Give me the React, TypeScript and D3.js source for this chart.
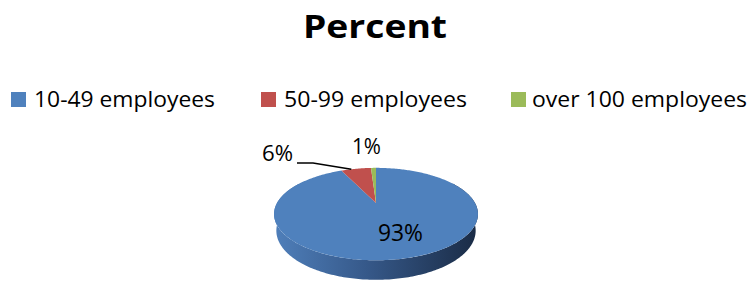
import React, { useEffect, useRef } from "react";
import * as d3 from "d3";

const categories = ["10-49 employees", "50-99 employees", "over 100 employees"];
const values = [93, 6, 1];
const valueLabels = ["93%", "6%", "1%"];
const colors = ["#4F81BD", "#C0504D", "#9BBB59"];

const App = () => {
  const svgRef = useRef<SVGSVGElement>(null);

  useEffect(() => {
    const width = 752, height = 284;
    const svg = d3.select(svgRef.current)
      .attr("width", width)
      .attr("height", height);
    svg.selectAll("*").remove();

    const font = "'Open Sans', 'Noto Sans', sans-serif";

    // simple perspective projection of a flat cylinder
    const cx = 376, cy = 203, s = 99;
    const phi = Math.asin(0.44);
    const dist = 3.75;
    const depth = 0.186;
    const project = (theta: number, r: number, y: number): [number, number] => {
      const X = r * Math.sin(theta);
      const Z = r * Math.cos(theta);
      const v = y * Math.cos(phi) + Z * Math.sin(phi);
      const w = Z * Math.cos(phi) - y * Math.sin(phi);
      const f = 1 / (1 + w / dist);
      return [cx + s * X * f, cy - s * v * f];
    };

    const defs = svg.append("defs");
    const grad = defs.append("linearGradient")
      .attr("id", "sideGrad")
      .attr("x1", 0).attr("x2", 1).attr("y1", 0).attr("y2", 0);
    grad.append("stop").attr("offset", "0%").attr("stop-color", "#4f7fba");
    grad.append("stop").attr("offset", "45%").attr("stop-color", "#36598a");
    grad.append("stop").attr("offset", "100%").attr("stop-color", "#1a2b45");

    // title
    svg.append("text")
      .attr("x", 303)
      .attr("y", 38)
      .attr("font-family", font)
      .attr("font-weight", "bold")
      .attr("font-size", 32)
      .attr("textLength", 144)
      .attr("lengthAdjust", "spacingAndGlyphs")
      .attr("fill", "#000")
      .text("Percent");

    // legend
    const legendX = [11, 261, 511];
    const legendText = [181, 183, 215];
    const legend = svg.append("g");
    categories.forEach((c, i) => {
      legend.append("rect")
        .attr("x", legendX[i])
        .attr("y", 92)
        .attr("width", 15)
        .attr("height", 15)
        .attr("fill", colors[i]);
      legend.append("text")
        .attr("x", legendX[i] + (i === 2 ? 21 : 23))
        .attr("y", 107)
        .attr("font-family", font)
        .attr("font-size", 22)
        .attr("textLength", legendText[i])
        .attr("lengthAdjust", "spacingAndGlyphs")
        .attr("fill", "#000")
        .text(c);
    });

    const pie = d3.pie<number>().sort(null).value(d => d);
    const arcs = pie(values);
    const step = Math.PI / 180;

    // side wall (front part of the cylinder)
    const side: [number, number][] = [];
    for (let t = Math.PI / 3; t <= (5 * Math.PI) / 3 + 1e-9; t += step) side.push(project(t, 1, 0));
    for (let t = (5 * Math.PI) / 3; t >= Math.PI / 3 - 1e-9; t -= step) side.push(project(t, 1, -depth));
    svg.append("path")
      .attr("d", d3.line()(side) + "Z")
      .attr("fill", "url(#sideGrad)");

    // top face slices
    arcs.forEach((a, i) => {
      const pts: [number, number][] = [[cx, cy]];
      const n = Math.max(2, Math.ceil((a.endAngle - a.startAngle) / step));
      for (let k = 0; k <= n; k++) {
        const t = a.startAngle + ((a.endAngle - a.startAngle) * k) / n;
        pts.push(project(t, 1, 0));
      }
      svg.append("path")
        .attr("d", d3.line()(pts) + "Z")
        .attr("fill", colors[i]);
    });

    // data labels
    const labelPos: [number, number, number, number][] = [
      [378, 241, 45, 24],
      [262, 161, 31, 21],
      [352, 154, 29, 21],
    ];
    arcs.forEach((a, i) => {
      const [x, y, len, size] = labelPos[i];
      svg.append("text")
        .attr("x", x)
        .attr("y", y)
        .attr("font-family", font)
        .attr("font-size", size)
        .attr("textLength", len)
        .attr("lengthAdjust", "spacingAndGlyphs")
        .attr("fill", "#000")
        .text(valueLabels[i]);
    });

    // leader line for the small red slice
    const red = arcs[1];
    const edge = project((red.startAngle + red.endAngle) / 2 - 0.06, 1, 0);
    svg.append("path")
      .attr("d", d3.line()([[297, 163], [313, 163], edge]))
      .attr("fill", "none")
      .attr("stroke", "#000")
      .attr("stroke-width", 1.5);
  }, []);

  return (
    <svg
      ref={svgRef}
      style={{ position: "absolute", left: 0, top: 0, background: "#fff" }}
    ></svg>
  );
};

export default App;
